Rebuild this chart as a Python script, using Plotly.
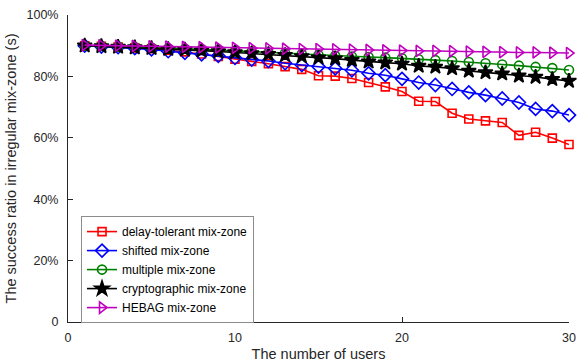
import plotly.graph_objects as go

users = list(range(1, 31))

delay_tolerant = [90.0, 89.8, 89.6, 89.3, 89.0, 88.5, 88.0, 87.3, 86.5, 85.6,
                  84.9, 84.1, 83.2, 82.3, 80.2, 80.1, 79.3, 78.0, 76.6, 75.1,
                  71.9, 71.8, 68.0, 66.1, 65.5, 65.0, 60.8, 61.8, 59.9, 57.8]
shifted = [90.0, 89.7, 89.5, 89.2, 88.8, 88.2, 87.7, 87.2, 86.7, 86.0,
           85.5, 85.0, 84.3, 83.7, 83.2, 82.6, 82.0, 81.0, 80.4, 79.2,
           78.0, 77.2, 75.9, 74.8, 73.9, 72.8, 71.5, 69.4, 68.7, 67.4]
multiple = [90.0, 89.9, 89.7, 89.6, 89.4, 89.2, 89.0, 88.8, 88.6, 88.3,
            88.1, 87.8, 87.6, 87.3, 87.0, 86.7, 86.5, 86.3, 86.1, 85.9,
            85.6, 85.3, 85.0, 84.7, 84.3, 83.9, 83.5, 83.1, 82.7, 82.1]
cryptographic = [90.0, 89.8, 89.6, 89.4, 89.2, 88.9, 88.7, 88.4, 88.1, 87.8,
                 87.5, 87.2, 86.9, 86.5, 86.1, 85.8, 85.3, 84.8, 84.5, 84.1,
                 83.4, 83.1, 82.6, 81.8, 81.3, 80.9, 80.2, 79.8, 79.1, 78.5]
hebag = [90.2, 90.1, 90.0, 89.9, 89.8, 89.7, 89.6, 89.5, 89.4, 89.3,
         89.2, 89.1, 89.0, 88.9, 88.9, 88.8, 88.7, 88.6, 88.5, 88.4,
         88.3, 88.3, 88.2, 88.1, 88.0, 87.9, 87.8, 87.8, 87.7, 87.6]

y_tickvals = [0, 20, 40, 60, 80, 100]
y_ticktext = ["0", "20%", "40%", "60%", "80%", "100%"]
x_tickvals = [0, 10, 20, 30]

series = [
    ("delay-tolerant mix-zone", delay_tolerant, "#ff0000", "square-open", 8),
    ("shifted mix-zone", shifted, "#0000ff", "diamond-open", 10),
    ("multiple mix-zone", multiple, "#008000", "circle-open", 9),
    ("cryptographic mix-zone", cryptographic, "#000000", "star", 11),
    ("HEBAG mix-zone", hebag, "#bf00bf", "triangle-right-open", 10),
]

fig = go.Figure()
for name, vals, color, sym, size in series:
    fig.add_trace(go.Scatter(
        x=users, y=vals, name=name, mode="lines+markers",
        line=dict(color=color, width=1.6),
        marker=dict(symbol=sym, size=size, color=color,
                    line=dict(color=color, width=1.6)),
        cliponaxis=False,
    ))

axis_color = "#262626"
fig.update_layout(
    width=577, height=363,
    margin=dict(l=68, r=8, t=15, b=41, autoexpand=False),
    paper_bgcolor="white", plot_bgcolor="white",
    font=dict(family="Liberation Sans, Arial, sans-serif", size=12.5, color=axis_color),
    showlegend=True,
    legend=dict(
        x=0.026, y=0.345, xanchor="left", yanchor="top",
        bgcolor="white", bordercolor="#8c8c8c", borderwidth=1,
        font=dict(size=12, color="#000000"),
        tracegroupgap=0, itemsizing="trace",
    ),
    xaxis=dict(
        range=[0, 30], tickvals=x_tickvals, showgrid=False, zeroline=False,
        showline=True, linecolor=axis_color, linewidth=1, automargin=False,
        ticks="inside", ticklen=5, tickcolor=axis_color, ticklabelstandoff=4,
        title=dict(text="The number of users", font=dict(size=14.5), standoff=4),
    ),
    yaxis=dict(
        range=[0, 100], tickvals=y_tickvals, ticktext=y_ticktext,
        showgrid=False, zeroline=False, automargin=False,
        showline=True, linecolor=axis_color, linewidth=1,
        ticks="inside", ticklen=5, tickcolor=axis_color, ticklabelstandoff=6,
        title=dict(text="The success ratio in irregular mix-zone (s)", font=dict(size=14.5), standoff=6),
    ),
)

fig.write_html("out.html")
